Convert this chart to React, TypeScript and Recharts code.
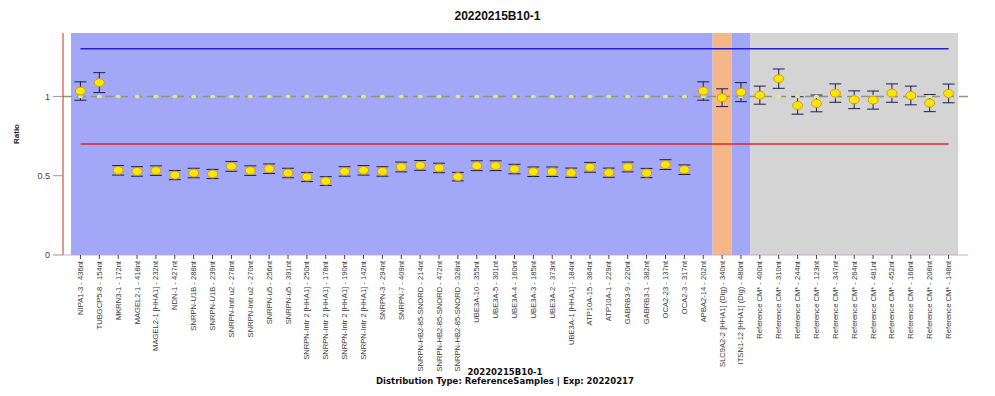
import React from 'react';
import {
  ComposedChart,
  Line,
  XAxis,
  YAxis,
  ErrorBar,
  ReferenceArea,
  ReferenceLine,
} from 'recharts';

const probes = [
  'NIPA1-3 - 436nt', 'TUBGCP5-8 - 154nt', 'MKRN3-1 - 172nt', 'MAGEL2-1 - 418nt',
  'MAGEL2-1 [HHA1] - 232nt', 'NDN-1 - 427nt', 'SNRPN-U1B - 288nt', 'SNRPN-U1B - 239nt',
  'SNRPN-Intr u2 - 278nt', 'SNRPN-Intr u2 - 270nt', 'SNRPN-u5 - 256nt', 'SNRPN-u5 - 391nt',
  'SNRPN-Intr 2 [HHA1] - 250nt', 'SNRPN-Intr 2 [HHA1] - 178nt', 'SNRPN-Intr 2 [HHA1] - 190nt',
  'SNRPN-Intr 2 [HHA1] - 142nt', 'SNRPN-3 - 294nt', 'SNRPN-7 - 409nt',
  'SNRPN-HB2-85-SNORD - 214nt', 'SNRPN-HB2-85-SNORD - 472nt', 'SNRPN-HB2-85-SNORD - 328nt',
  'UBE3A-10 - 355nt', 'UBE3A-5 - 301nt', 'UBE3A-4 - 160nt', 'UBE3A-3 - 185nt', 'UBE3A-2 - 373nt',
  'UBE3A-1 [HHA1] - 184nt', 'ATP10A-15 - 364nt', 'ATP10A-1 - 229nt', 'GABRB3-9 - 220nt',
  'GABRB3-1 - 382nt', 'OCA2-23 - 137nt', 'OCA2-3 - 317nt', 'APBA2-14 - 202nt',
  'SLC9A2-2 [HHA1] (Dig) - 340nt', 'ITSN1-12 [HHA1] (Dig) - 480nt',
  'Reference CM* - 400nt', 'Reference CM* - 310nt', 'Reference CM* - 244nt', 'Reference CM* - 123nt',
  'Reference CM* - 347nt', 'Reference CM* - 264nt', 'Reference CM* - 481nt', 'Reference CM* - 452nt',
  'Reference CM* - 166nt', 'Reference CM* - 208nt', 'Reference CM* - 148nt',
];

const ratios = [
  1.034, 1.087, 0.534, 0.527, 0.532, 0.504, 0.517, 0.511, 0.559, 0.532, 0.544, 0.517,
  0.492, 0.466, 0.527, 0.534, 0.527, 0.555, 0.565, 0.549, 0.494, 0.563, 0.563, 0.542,
  0.525, 0.525, 0.519, 0.553, 0.519, 0.555, 0.517, 0.57, 0.538, 1.034, 0.992, 1.027,
  1.008, 1.112, 0.943, 0.956, 1.021, 0.979, 0.977, 1.021, 1.006, 0.958, 1.019,
];

const ratioErr = [
  0.058, 0.063, 0.03, 0.03, 0.03, 0.029, 0.03, 0.029, 0.031, 0.03, 0.03, 0.03,
  0.029, 0.028, 0.03, 0.03, 0.03, 0.031, 0.031, 0.03, 0.027, 0.031, 0.031, 0.03,
  0.03, 0.03, 0.029, 0.031, 0.029, 0.031, 0.029, 0.031, 0.03, 0.058, 0.056, 0.06,
  0.057, 0.061, 0.055, 0.053, 0.058, 0.056, 0.057, 0.058, 0.059, 0.054, 0.059,
];

const expected = probes.map(() => 1);

const yTicks = [0, 0.5, 1];
const upperLimit = 1.3;
const lowerLimit = 0.7;

const chartData = probes.map((name, i) => ({
  name,
  ratio: ratios[i],
  err: ratioErr[i],
  expected: expected[i],
}));

const first = probes[0];
const last = probes[probes.length - 1];

const RatioDot = (props: any) => {
  const { cx, cy, index } = props;
  if (cx == null || cy == null) return <g key={index} />;
  return (
    <ellipse key={index} cx={cx} cy={cy} rx={5} ry={4} fill="#ffe600" stroke="#d29a10" strokeWidth={1} />
  );
};

const ExpectedDot = (props: any) => {
  const { cx, cy, index } = props;
  if (cx == null || cy == null) return <g key={index} />;
  return <ellipse key={index} cx={cx} cy={cy} rx={2.5} ry={1.8} fill="#dde890" />;
};

const ProbeTick = (props: any) => {
  const { x, y, payload } = props;
  return (
    <text
      x={x}
      y={y}
      transform={`rotate(-90, ${x}, ${y})`}
      textAnchor="end"
      dominantBaseline="central"
      fontSize={7.6}
      fill="#3a3a3a"
      style={{ fontFamily: '"Liberation Sans Narrow", "Liberation Sans", Arial, sans-serif' }}
    >
      {payload.value}
    </text>
  );
};

const App: React.FC = () => {
  return (
    <div style={{ position: 'absolute', left: 0, top: 0, width: 995, height: 396, background: '#fff' }}>
      <div
        style={{
          position: 'absolute', top: 9, left: 0, width: 995, textAlign: 'center',
          fontFamily: '"Liberation Sans", Arial, sans-serif', fontWeight: 'bold', fontSize: 12, color: '#111',
        }}
      >
        20220215B10-1
      </div>

      <ComposedChart
        width={995}
        height={396}
        data={chartData}
        margin={{ top: 33, right: 27, left: 0, bottom: 0 }}
      >
        <XAxis
          dataKey="name"
          scale="band"
          interval={0}
          padding={{ left: 8, right: 10 }}
          height={141}
          tickSize={4}
          tick={<ProbeTick />}
          axisLine={{ stroke: '#c8a8d8' }}
          tickLine={{ stroke: '#444' }}
        />
        <YAxis
          domain={[0, 1.4]}
          ticks={yTicks}
          width={63}
          tickSize={10}
          tickMargin={3}
          axisLine={{ stroke: '#d02828' }}
          tickLine={{ stroke: '#999' }}
          tick={{ fontSize: 9, fill: '#444', fontFamily: '"Liberation Sans", Arial, sans-serif' }}
          label={{
            value: 'Ratio', angle: -90, position: 'insideLeft', offset: 16,
            style: { fontSize: 8, fontWeight: 'bold', fill: '#222', fontFamily: '"Liberation Sans", Arial, sans-serif' },
          }}
        />

        <ReferenceArea x1={first} x2={probes[33]} fill="#a2a8f7" fillOpacity={1} stroke="none" />
        <ReferenceArea x1={probes[34]} x2={probes[34]} fill="#f4b787" fillOpacity={1} stroke="none" />
        <ReferenceArea x1={probes[35]} x2={probes[35]} fill="#a2a8f7" fillOpacity={1} stroke="none" />
        <ReferenceArea x1={probes[36]} x2={last} fill="#d4d4d4" fillOpacity={1} stroke="none" />

        <ReferenceLine
          segment={[{ x: first, y: upperLimit }, { x: last, y: upperLimit }]}
          stroke="#2222cc"
          strokeWidth={1.5}
        />
        <ReferenceLine
          segment={[{ x: first, y: lowerLimit }, { x: last, y: lowerLimit }]}
          stroke="#e02828"
          strokeWidth={1.5}
        />
        <ReferenceLine y={1} stroke="#8c9678" strokeWidth={1.5} strokeDasharray="9 5" />

        <Line
          dataKey="expected"
          stroke="none"
          dot={<ExpectedDot />}
          activeDot={false}
          isAnimationActive={false}
        />
        <Line
          dataKey="ratio"
          stroke="none"
          dot={<RatioDot />}
          activeDot={false}
          isAnimationActive={false}
        >
          <ErrorBar dataKey="err" width={6} stroke="#1c1c4c" strokeWidth={1} direction="y" />
        </Line>
      </ComposedChart>

      <div
        style={{
          position: 'absolute', top: 368, left: 305, width: 400, textAlign: 'center',
          fontFamily: '"DejaVu Sans", Verdana, sans-serif', fontWeight: 'bold', fontSize: 8.5, lineHeight: '9px', color: '#111',
        }}
      >
        <div>20220215B10-1</div>
        <div>Distribution Type: ReferenceSamples | Exp: 20220217</div>
      </div>
    </div>
  );
};

export default App;
